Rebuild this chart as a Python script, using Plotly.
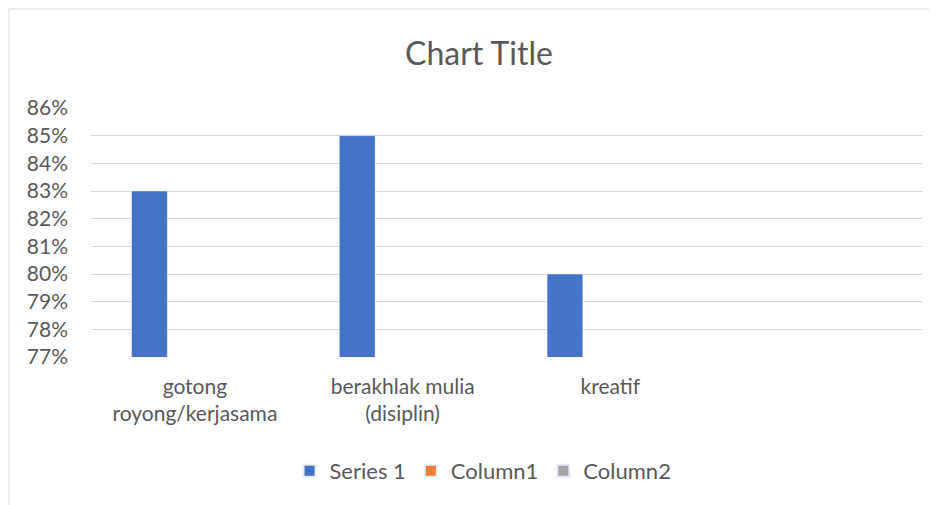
import plotly.graph_objects as go

categories = ["gotong<br>royong/kerjasama", "berakhlak mulia<br>(disiplin)", "kreatif"]
series_1 = [0.83, 0.85, 0.80]
column_1 = [None, None, None]
column_2 = [None, None, None]
y_ticks = [0.77, 0.78, 0.79, 0.80, 0.81, 0.82, 0.83, 0.84, 0.85, 0.86]

FONT = "Lato"
GRAY = "#595959"

# page body has an 8px default margin: shift everything to compensate
OFF = 8
W, H = 937 - OFF, 505 - OFF
L, R, T, B = 91 - OFF, 15, 108 - OFF, 148
plot_w = W - L - R
plot_h = H - T - B

fig = go.Figure()
fig.add_trace(go.Bar(name="Series 1", x=categories, y=series_1, marker_color="#4472C4"))
fig.add_trace(go.Bar(name="Column1", x=categories, y=column_1, marker_color="#ED7D31"))
fig.add_trace(go.Bar(name="Column2", x=categories, y=column_2, marker_color="#A5A5A5"))

fig.update_layout(
    width=W, height=H,
    margin=dict(l=L, r=R, t=T, b=B, pad=0),
    paper_bgcolor="white", plot_bgcolor="white",
    barmode="group", bargap=0.344, bargroupgap=0.214,
    font=dict(family=FONT, color=GRAY, size=20),
    title=dict(text="Chart Title", x=(479 - OFF) / W, xref="container", xanchor="center",
               y=1 - (54 - OFF) / H, yref="container", yanchor="middle",
               font=dict(family=FONT, size=32, color=GRAY)),
    showlegend=True,
    legend=dict(orientation="h", xref="container", yref="container",
                x=(483 - OFF) / W, xanchor="center", y=1 - (471 - OFF) / H, yanchor="middle",
                font=dict(family=FONT, size=22, color=GRAY),
                itemsizing="constant", traceorder="normal"),
)
fig.update_xaxes(type="category", range=[-0.5, 3.5], showgrid=False, zeroline=False,
                 showline=False, ticks="", tickfont=dict(family=FONT, size=21, color=GRAY),
                 ticklabelstandoff=15, fixedrange=True)
fig.update_yaxes(range=[0.77, 0.86], tickvals=y_ticks, tickformat=".0%",
                 showgrid=True, gridcolor="#D9D9D9", gridwidth=1.3, zeroline=False,
                 showline=False, ticks="", tickfont=dict(family=FONT, size=21, color=GRAY),
                 ticklabelstandoff=22, fixedrange=True)

# outer chart border
fig.add_shape(type="rect", xref="paper", yref="paper",
              x0=(9 - OFF - L) / plot_w, x1=(W + 20 - L) / plot_w,
              y0=(H - B - (H + 20)) / plot_h, y1=(H - B - (9 - OFF)) / plot_h,
              line=dict(color="#D9D9D9", width=1), fillcolor="rgba(0,0,0,0)", layer="below")

fig.write_html("out.html")
